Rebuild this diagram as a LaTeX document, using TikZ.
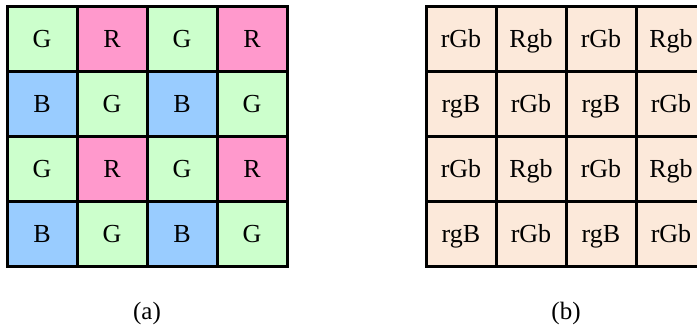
\documentclass[tikz,border=0pt]{standalone}
\usepackage{fontspec}
\setmainfont{Liberation Serif}
\usetikzlibrary{positioning}

\definecolor{bayerG}{HTML}{CCFFCC}
\definecolor{bayerR}{HTML}{FF99CC}
\definecolor{bayerB}{HTML}{99CCFF}
\definecolor{mixed}{HTML}{FCE9DA}

\begin{document}
\begin{tikzpicture}[x=1pt,y=1pt,
  cell/.style={draw,line width=3pt,miter limit=2,minimum width=70pt,minimum height=65pt,inner sep=0pt,
    text height=22pt,text depth=5pt,font=\fontsize{26}{30}\selectfont},
  colG/.style={cell,fill=bayerG},
  colR/.style={cell,fill=bayerR},
  colB/.style={cell,fill=bayerB},
  colM/.style={cell,fill=mixed},
  sublabel/.style={inner sep=1pt,font=\fontsize{25}{30}\selectfont}]
\clip (0,0) rectangle (697,326);
% (a) bayer pattern
\foreach \line [count=\r] in {{G,R,G,R},{B,G,B,G},{G,R,G,R},{B,G,B,G}}
  \foreach \c [count=\k] in \line
    \node (a-\r-\k) [col\c] at ({70*\k-28},{351.5-65*\r}) {\c};
% (b) demosaiced samples
\foreach \line [count=\r] in {{rGb,Rgb,rGb,Rgb},{rgB,rGb,rgB,rGb},{rGb,Rgb,rGb,Rgb},{rgB,rGb,rgB,rGb}}
  \foreach \c [count=\k] in \line
    \node (b-\r-\k) [colM] at ({70*\k+391},{351.5-65*\r}) {\c};
\node (capa) [sublabel] at (147,13) {(a)};
\node (capb) [sublabel] at (566,13) {(b)};
\end{tikzpicture}
\end{document}
